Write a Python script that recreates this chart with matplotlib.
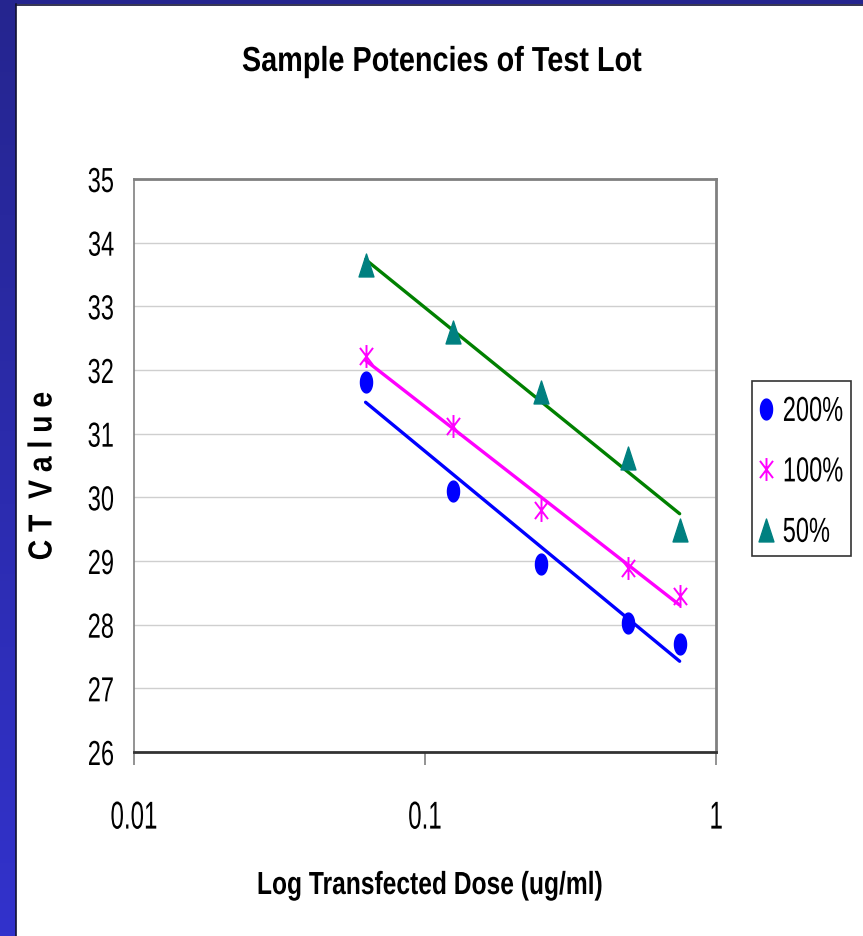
import numpy as np
import matplotlib
matplotlib.use("Agg")
import matplotlib.pyplot as plt
from matplotlib.path import Path
from matplotlib.patches import Rectangle
from matplotlib.patheffects import AbstractPathEffect
from matplotlib.transforms import Affine2D

doses = [0.0625, 0.125, 0.25, 0.5, 0.75]
ct_200 = [31.81, 30.10, 28.95, 28.03, 27.70]
ct_100 = [32.22, 31.12, 29.80, 28.89, 28.45]
ct_50 = [33.65, 32.60, 31.65, 30.62, 29.48]
series_labels = ["200%", "100%", "50%"]
y_ticks = [26, 27, 28, 29, 30, 31, 32, 33, 34, 35]
x_ticks = [0.01, 0.1, 1]
x_tick_labels = ["0.01", "0.1", "1"]

plt.rcParams["font.family"] = ["Liberation Sans", "DejaVu Sans"]

W, H = 863, 937


def fx(px):
    return px / W


def fy(py):
    return 1 - py / H


class Squeeze(AbstractPathEffect):
    """Condense / stretch glyphs (the source slide used a narrow, squeezed face)."""
    def __init__(self, sx=1.0, sy=1.0, anchor="center"):
        super().__init__()
        self.sx, self.sy, self.anchor = sx, sy, anchor

    def draw_path(self, renderer, gc, tpath, affine, rgbFace=None):
        ext = tpath.get_extents(affine)
        if self.anchor == "left":
            cx = ext.x0
        elif self.anchor == "right":
            cx = ext.x1
        else:
            cx = 0.5 * (ext.x0 + ext.x1)
        cy = 0.5 * (ext.y0 + ext.y1)
        aff = affine + Affine2D().translate(-cx, -cy).scale(self.sx, self.sy).translate(cx, cy)
        renderer.draw_path(gc, tpath, aff, rgbFace)


fig = plt.figure(figsize=(W / 100, H / 100), dpi=100)
fig.patch.set_facecolor("white")

# blue slide frame (left and top)
grad = np.linspace(0, 1, 256).reshape(-1, 1)
cmap = matplotlib.colors.LinearSegmentedColormap.from_list("b", ["#3232cc", "#25258f"])
bax = fig.add_axes([0, 0, fx(15), 1])
bax.imshow(grad, aspect="auto", cmap=cmap, origin="lower")
bax.axis("off")
tax = fig.add_axes([0, fy(5), 1, 5 / H])
tax.set_facecolor("#25258f")
tax.set_xticks([]); tax.set_yticks([])
for s in tax.spines.values():
    s.set_visible(False)
fig.add_artist(plt.Line2D([fx(15.5), fx(15.5)], [0, fy(5)], color="#111133", lw=1.2))
fig.add_artist(plt.Line2D([fx(15.5), 1], [fy(5.5), fy(5.5)], color="#111133", lw=1.2))

ax = fig.add_axes([fx(134), fy(753), (716 - 134) / W, (753 - 180) / H])
ax.set_xscale("log")
ax.set_xlim(0.01, 1)
ax.set_ylim(26, 35)

# condensed marker shapes (slide was squeezed horizontally)
t = np.linspace(0, 2 * np.pi, 60)
ellipse = Path(np.column_stack([0.58 * np.cos(t), np.sin(t)]), closed=True)
tri = Path([(0, 1), (-0.65, -1), (0.65, -1), (0, 1)], closed=True)
star = Path([(0, -1), (0, 1), (-0.57, -0.75), (0.57, 0.75), (-0.57, 0.75), (0.57, -0.75)],
            [Path.MOVETO, Path.LINETO, Path.MOVETO, Path.LINETO, Path.MOVETO, Path.LINETO])

specs = [
    (ct_200, dict(marker=ellipse, color="#0000ff", ms=15, ls="none"), "#0000ff"),
    (ct_100, dict(marker=star, color="#ff00ff", mfc="none", ms=16.5, mew=1.4, ls="none"), "#ff00ff"),
    (ct_50, dict(marker=tri, color="#008080", ms=16.5, ls="none"), "#008000"),
]
lx = np.log10(doses)
handles = []
for (vals, mk, lc), lab in zip(specs, series_labels):
    m, b = np.polyfit(lx, vals, 1)
    xs = np.array([doses[0], doses[-1]])
    ax.plot(xs, m * np.log10(xs) + b, color=lc, lw=2.4, zorder=2, solid_capstyle="round")
    h, = ax.plot(doses, vals, zorder=3, **mk)
    handles.append(h)

ax.set_yticks(y_ticks)
ax.set_yticklabels([str(v) for v in y_ticks], fontsize=25)
ax.set_xticks(x_ticks)
ax.set_xticklabels(x_tick_labels, fontsize=28)
ax.minorticks_off()
ax.tick_params(axis="y", length=0, pad=14)
ax.tick_params(axis="x", length=9, width=1.2, direction="out", pad=26, color="#808080")
ax.grid(axis="y", color="#cfcfcf", lw=1)
ax.set_axisbelow(True)
for s in ["top", "right"]:
    ax.spines[s].set_color("#808080")
    ax.spines[s].set_linewidth(2)
ax.spines["left"].set_color("#808080")
ax.spines["left"].set_linewidth(1.2)
ax.spines["bottom"].set_color("#333333")
ax.spines["bottom"].set_linewidth(2)

xl = ax.set_xlabel("Log Transfected Dose (ug/ml)", fontsize=23, fontweight="bold", va="baseline")
ax.xaxis.set_label_coords((430 - 134) / 582, (753 - 895) / 573)
xl.set_path_effects([Squeeze(0.77)])

yl = fig.text(fx(43), fy(477), "C T  V a l u e", rotation=90, fontsize=24, fontweight="bold",
              ha="center", va="center")
yl.set_path_effects([Squeeze(1.0, 0.85)])

tt = fig.text(fx(442), fy(72), "Sample Potencies of Test Lot", fontsize=25, fontweight="bold",
              ha="center", va="baseline")
tt.set_path_effects([Squeeze(0.83)])

for lab in ax.get_yticklabels():
    lab.set_path_effects([Squeeze(0.68, anchor="right")])
for lab in ax.get_xticklabels():
    lab.set_path_effects([Squeeze(0.62)])

# legend (frame drawn separately to fit the condensed labels)
fs_leg = 20
leg = fig.legend(handles, series_labels, loc="center left",
                 bbox_to_anchor=(fx(757 - 0.35 * fs_leg * 1.389), fy(473)),
                 fontsize=fs_leg, frameon=False, handlelength=0.62, handletextpad=0.3,
                 labelspacing=1.24, borderpad=0.35, borderaxespad=0)
for txt in leg.get_texts():
    txt.set_path_effects([Squeeze(0.85, 1.25, anchor="left")])
fig.add_artist(Rectangle((fx(752), fy(557)), (851 - 752) / W, (557 - 382) / H,
                         transform=fig.transFigure, fill=False, ec="#333333", lw=1.2))

fig.savefig("out.png", dpi=100)
